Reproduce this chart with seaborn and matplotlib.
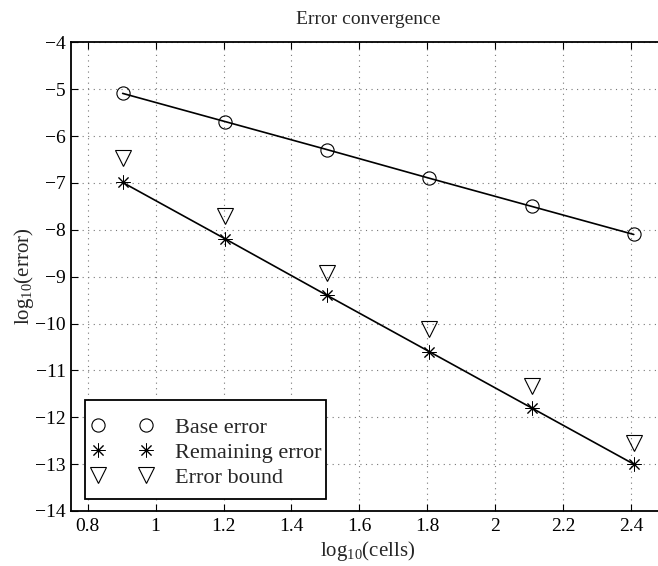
import matplotlib
matplotlib.use("Agg")
import matplotlib.pyplot as plt
import seaborn as sns
import pandas as pd
from matplotlib.lines import Line2D
from matplotlib.patches import Rectangle

# ---- data ----
log_cells = [0.903, 1.204, 1.505, 1.806, 2.107, 2.408]
base_error = [-5.09, -5.69, -6.29, -6.90, -7.50, -8.10]
remaining_error = [-6.99, -8.19, -9.40, -10.60, -11.80, -13.00]
error_bound = [-6.47, -7.70, -8.92, -10.12, -11.33, -12.54]
series_labels = ["Base error", "Remaining error", "Error bound"]
x_ticks = [0.8, 1.0, 1.2, 1.4, 1.6, 1.8, 2.0, 2.2, 2.4]
x_tick_labels = ["0.8", "1", "1.2", "1.4", "1.6", "1.8", "2", "2.2", "2.4"]
y_ticks = [-14, -13, -12, -11, -10, -9, -8, -7, -6, -5, -4]
y_tick_labels = ["\u221214", "\u221213", "\u221212", "\u221211", "\u221210", "\u22129",
                 "\u22128", "\u22127", "\u22126", "\u22125", "\u22124"]

df = pd.DataFrame({"x": log_cells, "base": base_error,
                   "remaining": remaining_error, "bound": error_bound})

sns.set_style("ticks")
plt.rcParams["font.family"] = ["Liberation Serif", "DejaVu Serif"]
plt.rcParams["mathtext.fontset"] = "custom"
plt.rcParams["mathtext.rm"] = "Liberation Serif"
plt.rcParams["mathtext.it"] = "Liberation Serif:italic"
plt.rcParams["axes.unicode_minus"] = True

FS = 14
fig = plt.figure(figsize=(6.58, 5.66), dpi=100)
ax = fig.add_axes([70.7 / 658, 55 / 566, (665 - 70.7) / 658, (511 - 42.3) / 566])

lw = 1.2
# fitted lines
sns.lineplot(data=df, x="x", y="base", ax=ax, color="k", lw=lw, legend=False, zorder=3)
sns.lineplot(data=df, x="x", y="remaining", ax=ax, color="k", lw=lw, legend=False, zorder=3)

# markers
circ = dict(marker="o", markersize=9.5, markerfacecolor="none", markeredgecolor="k", markeredgewidth=0.8)
star = dict(marker=(8, 2, 0), markersize=10, markeredgecolor="k", markerfacecolor="k", markeredgewidth=0.7)
tri = dict(marker="v", markersize=11, markerfacecolor="none", markeredgecolor="k", markeredgewidth=0.8)

sns.lineplot(data=df, x="x", y="base", ax=ax, color="k", linestyle="none", legend=False, zorder=4, **circ)
sns.lineplot(data=df, x="x", y="remaining", ax=ax, color="k", linestyle="none", legend=False, zorder=4, **star)
sns.lineplot(data=df, x="x", y="bound", ax=ax, color="k", linestyle="none", legend=False, zorder=4, **tri)

ax.set_xlim(0.75, 2.5)
ax.set_ylim(-14, -4)
ax.set_xticks(x_ticks)
ax.set_xticklabels(x_tick_labels)
ax.set_yticks(y_ticks)
ax.set_yticklabels(y_tick_labels)
ax.tick_params(direction="in", length=5, width=0.8, labelsize=FS, colors="k",
               top=True, right=True)
ax.tick_params(axis="y", pad=3.5)
ax.tick_params(axis="x", pad=5)
for s in ax.spines.values():
    s.set_visible(True)
    s.set_linewidth(1.3)
    s.set_color("k")

ax.grid(True, linestyle=(0, (1, 4)), color="#777777", linewidth=0.8)
ax.set_axisbelow(True)

ax.set_xlabel(r"log$_\mathrm{10}$(cells)", fontsize=15, labelpad=3)
ax.set_ylabel(r"log$_\mathrm{10}$(error)", fontsize=15, labelpad=-1)
ax.set_title("Error convergence", fontsize=FS, pad=13)

# legend box (drawn as its own frame, MATLAB style)
box = Rectangle((0.0246, 0.0256), 0.405, 0.211, transform=ax.transAxes,
                facecolor="white", edgecolor="k", linewidth=1.3, zorder=9)
ax.add_patch(box)

handles = [Line2D([], [], linestyle="none", **circ),
           Line2D([], [], linestyle="none", **star),
           Line2D([], [], linestyle="none", **tri)]
leg = ax.legend(handles, series_labels, numpoints=2, loc="lower left",
                bbox_to_anchor=(0.023, 0.035),
                borderaxespad=0, fontsize=16, frameon=False,
                handlelength=2.76, handletextpad=1.0,
                borderpad=0.3, labelspacing=0.2)
leg.set_zorder(10)

fig.savefig("out.png", dpi=100)
